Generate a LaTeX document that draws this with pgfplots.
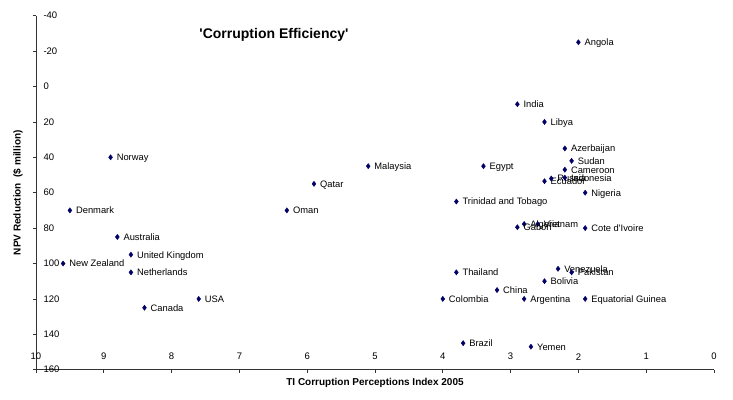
\documentclass[border=0pt]{standalone}
\usepackage{pgfplots}
\pgfplotsset{compat=1.18}
\usepackage{fontspec}
\setmainfont{Liberation Sans}
\definecolor{mk}{RGB}{0,0,102}
\begin{document}
\begin{tikzpicture}
\begin{axis}[
  at={(0,0)}, anchor=south west,
  scale only axis, width=678pt, height=354pt,
  x dir=reverse, y dir=reverse,
  xmin=0, xmax=10, ymin=-40, ymax=160,
  axis x line*=bottom, axis y line*=left,
  axis line style={-, black!80, line width=0.7pt},
  tick style={black!80, line width=0.7pt},
  tick align=outside, major tick length=3pt,
  xtick={0,1,...,10},
  xticklabels={0,1,2,3,4,5,6,7,8,9,10},
  ytick={-40,-20,0,20,40,60,80,100,120,140,160},
  yticklabels={-40,-20,0,20,40,60,80,100,120,140,160},
  xticklabel style={font=\fontsize{9.5}{11}\selectfont, anchor=center, yshift=16pt},
  yticklabel style={font=\fontsize{9.5}{11}\selectfont, anchor=west, xshift=7pt},
  xlabel={\textbf{TI Corruption Perceptions Index 2005}},
  ylabel={\textbf{NPV Reduction\ \ (\$ million)}},
  xlabel style={font=\fontsize{10}{12}\selectfont, at={(axis description cs:0.5,0)}, anchor=center, yshift=-13.5pt},
  ylabel style={font=\fontsize{10}{12}\selectfont, at={(axis description cs:0,0.5)}, anchor=center, rotate=0, yshift=18pt},
  clip=false,
]
\addplot[only marks, mark=diamond*, mark size=2.6pt, color=mk,
  nodes near coords, point meta=explicit symbolic,
  every node near coord/.style={anchor=base west, inner sep=0pt, xshift=6pt, yshift=-3.4pt,
    font=\fontsize{9.35}{11}\selectfont, text=black}]
table[meta=label, row sep=\\] {
x y label\\
2.0 -25 Angola\\
2.9 10 India\\
2.5 20 Libya\\
2.2 35 Azerbaijan\\
2.1 42 Sudan\\
2.2 47 Cameroon\\
2.5 53.5 Ecuador\\
2.4 52 Russia\\
2.2 51.5 Indonesia\\
1.9 60 Nigeria\\
3.4 45 Egypt\\
3.8 65 {Trinidad and Tobago}\\
2.8 77.7 Algeria\\
2.6 77.7 Vietnam\\
2.9 79.5 Gabon\\
1.9 80 {Cote d\textquotesingle{}Ivoire}\\
3.8 105 Thailand\\
2.3 103 Venezuela\\
2.1 105 Pakistan\\
2.5 110 Bolivia\\
3.2 115 China\\
4.0 120 Colombia\\
2.8 120 Argentina\\
1.9 120 {Equatorial Guinea}\\
3.7 145 Brazil\\
2.7 147 Yemen\\
8.9 40 Norway\\
9.5 70 Denmark\\
8.8 85 Australia\\
8.6 95 {United Kingdom}\\
9.6 100 {New Zealand}\\
8.6 105 Netherlands\\
7.6 120 USA\\
8.4 125 Canada\\
5.1 45 Malaysia\\
5.9 55 Qatar\\
6.3 70 Oman\\
};
\node[font=\fontsize{14}{16}\selectfont\bfseries, anchor=center] at (axis cs:6.49,-29.1) {\textquotesingle Corruption Efficiency\textquotesingle};
\end{axis}
\pgfresetboundingbox
\path[use as bounding box] (-36pt,-29.3pt) rectangle (697pt,369.7pt);
\end{tikzpicture}
\end{document}
